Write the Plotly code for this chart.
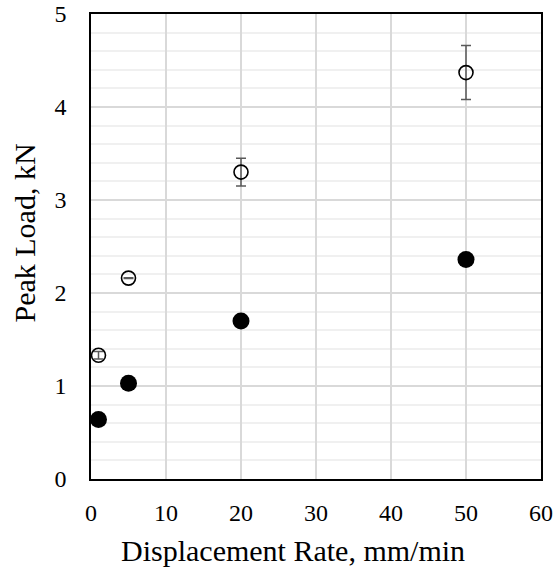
import plotly.graph_objects as go

rate = [1, 5, 20, 50]
peak_open = [1.33, 2.16, 3.30, 4.37]
err_open = [0.04, 0.005, 0.15, 0.29]
peak_filled = [0.64, 1.03, 1.70, 2.36]

x_ticks = [0, 10, 20, 30, 40, 50, 60]
y_ticks = [0, 1, 2, 3, 4, 5]
x_title = "Displacement Rate, mm/min"
y_title = "Peak Load, kN"

fig = go.Figure()
fig.add_trace(go.Scatter(
    x=rate, y=peak_open, mode="markers",
    marker=dict(symbol="circle-open", size=14, color="black", line=dict(width=1.6)),
    error_y=dict(type="data", array=err_open, visible=True, color="#595959", thickness=1.5, width=5),
    showlegend=False, cliponaxis=False))
fig.add_trace(go.Scatter(
    x=rate, y=peak_filled, mode="markers",
    marker=dict(symbol="circle", size=17, color="black"),
    showlegend=False, cliponaxis=False))

serif = "Liberation Serif"
title_font = dict(size=30, family=serif, color="black")
fig.update_layout(
    width=556, height=573,
    margin=dict(l=91, r=15, t=14, b=94),
    paper_bgcolor="white", plot_bgcolor="white",
    font=dict(family=serif, color="black"),
    xaxis=dict(range=[0, 60], tickvals=x_ticks, showgrid=True, gridcolor="#d9d9d9", gridwidth=1.5,
               showline=True, linecolor="black", linewidth=1.5, mirror=True, zeroline=False,
               ticks="outside", ticklen=11, tickcolor="rgba(0,0,0,0)", automargin=False,
               ticklabeloverflow="allow",
               tickfont=dict(size=24, family=serif, color="black")),
    yaxis=dict(range=[0, 5], tickvals=y_ticks, showgrid=True, gridcolor="#d9d9d9", gridwidth=1.5,
               minor=dict(dtick=0.2, showgrid=True, gridcolor="#f0f0f0", gridwidth=1.5),
               showline=True, linecolor="black", linewidth=1.5, mirror=True, zeroline=False,
               ticks="outside", ticklen=18, tickcolor="rgba(0,0,0,0)", automargin=False,
               ticklabeloverflow="allow",
               tickfont=dict(size=24, family=serif, color="black")),
    annotations=[
        dict(text=x_title, xref="paper", yref="paper", x=0.4478, y=-0.1548,
             xanchor="center", yanchor="middle", showarrow=False, font=title_font),
        dict(text=y_title, xref="paper", yref="paper", x=-0.1467, y=0.530,
             xanchor="center", yanchor="middle", textangle=-90, showarrow=False, font=title_font),
    ],
)
fig.write_html("out.html", config={"displayModeBar": False},
               post_script="document.body.style.margin='0';document.body.style.overflow='hidden';")
